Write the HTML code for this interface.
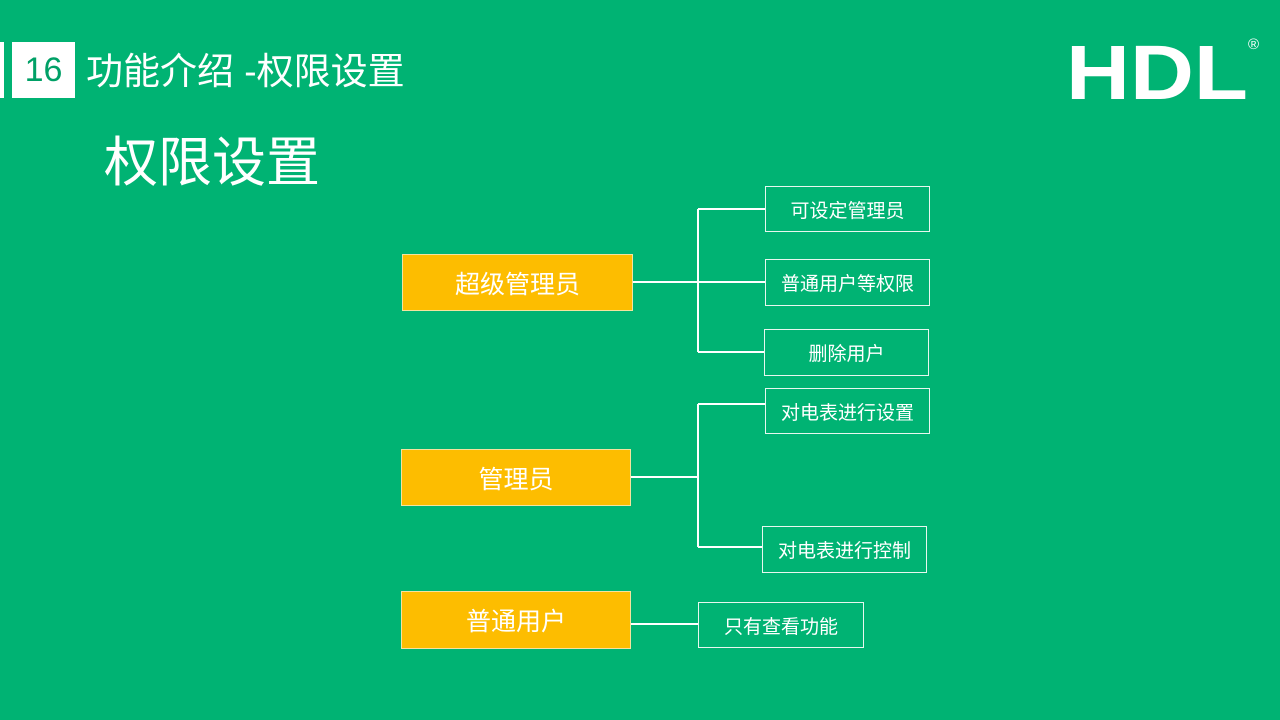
<!DOCTYPE html>
<html><head><meta charset="utf-8"><style>
body{margin:0;width:1280px;height:720px;background:#00b373;position:relative;overflow:hidden;font-family:"Liberation Sans","Noto Sans CJK SC",sans-serif;color:#fff}
.a{position:absolute}
.o{position:absolute;background:#fdbd00;border:1px solid #f4e3a0;box-sizing:border-box;display:flex;align-items:center;justify-content:center;font-size:25px}
.w{position:absolute;border:1px solid #e8f7ef;box-sizing:border-box;display:flex;align-items:center;justify-content:center;font-size:19px}
</style></head><body>
<div class="a" style="left:0;top:42px;width:4px;height:56px;background:#fff"></div>
<div class="a" style="left:12px;top:42px;width:63px;height:56px;background:#fff;color:#00a066;font-size:34px;line-height:56px;text-align:center">16</div>
<div class="a" style="left:86px;top:47px;font-size:37px;line-height:50px">功能介绍 -权限设置</div>
<div class="a" style="left:104px;top:130px;font-size:54px;line-height:66px">权限设置</div>
<div class="a" style="left:1066px;top:28px;font-size:77px;font-weight:bold;line-height:90px;transform:scaleX(1.15);transform-origin:left">HDL</div>
<div class="a" style="left:1248px;top:36px;font-size:15px">®</div>
<svg class="a" style="left:0;top:0" width="1280" height="720">
<g stroke="#fff" stroke-width="2" fill="none">
<path d="M632 282H765M698 209V352M698 209H765M698 352H764"/>
<path d="M630 477H698M698 404V547M698 404H765M698 547H762"/>
<path d="M630 624H698"/>
</g></svg>
<div class="o" style="left:402px;top:254px;width:231px;height:57px">超级管理员</div>
<div class="o" style="left:401px;top:449px;width:230px;height:57px">管理员</div>
<div class="o" style="left:401px;top:591px;width:230px;height:58px">普通用户</div>
<div class="w" style="left:765px;top:186px;width:165px;height:46px">可设定管理员</div>
<div class="w" style="left:765px;top:259px;width:165px;height:47px">普通用户等权限</div>
<div class="w" style="left:764px;top:329px;width:165px;height:47px">删除用户</div>
<div class="w" style="left:765px;top:388px;width:165px;height:46px">对电表进行设置</div>
<div class="w" style="left:762px;top:526px;width:165px;height:47px">对电表进行控制</div>
<div class="w" style="left:698px;top:602px;width:166px;height:46px">只有查看功能</div>
</body></html>
